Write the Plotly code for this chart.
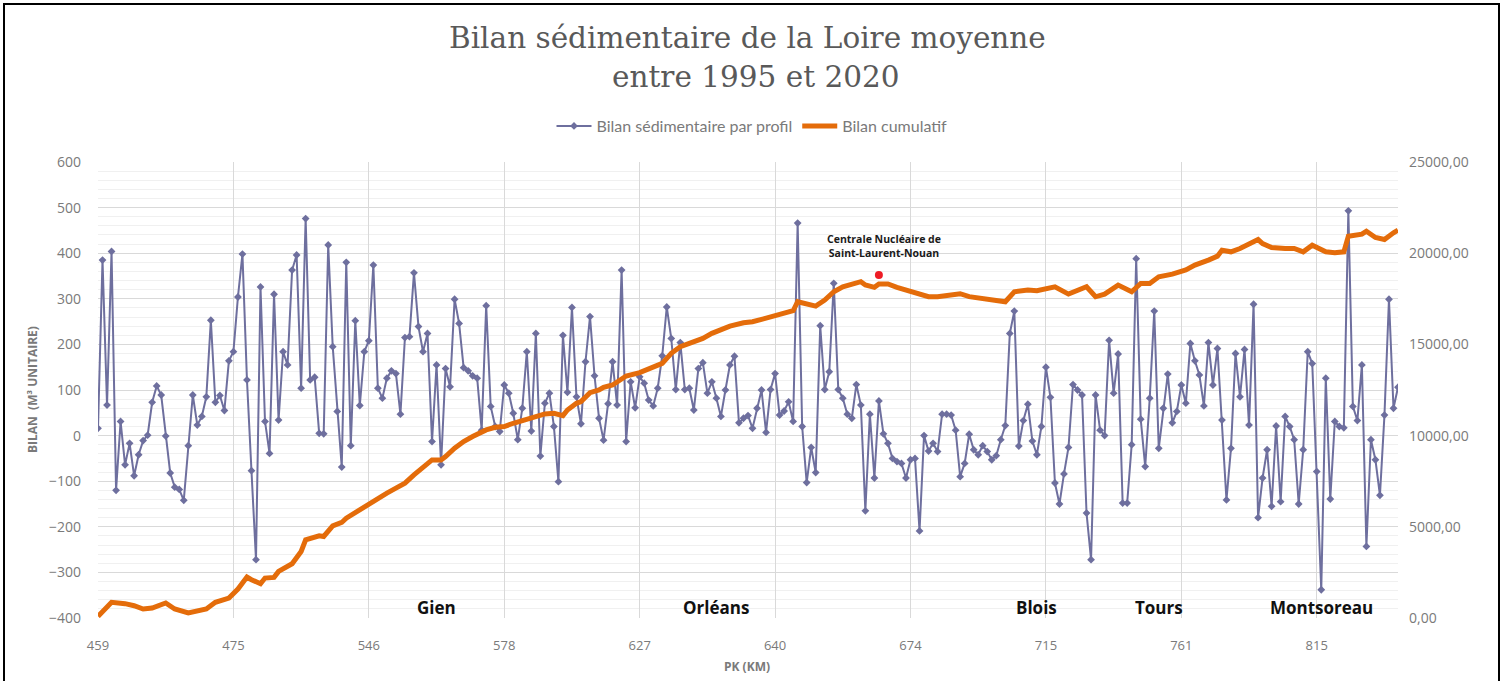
import plotly.graph_objects as go

# --- data ---
bilan_profil = [
    16, 385, 67, 404, -120, 31, -64, -17, -88, -42,
    -11, 1, 73, 109, 89, -1, -82, -113, -118, -142,
    -22, 89, 23, 42, 85, 253, 73, 88, 55, 164,
    184, 304, 398, 122, -77, -272, 326, 31, -39, 310,
    34, 184, 155, 363, 396, 104, 476, 122, 128, 5,
    4, 418, 195, 53, -69, 380, -22, 252, 66, 184,
    208, 374, 104, 82, 126, 142, 136, 47, 215, 217,
    357, 239, 184, 224, -13, 155, -64, 147, 107, 299,
    246, 149, 142, 131, 126, 12, 285, 64, 20, 9,
    111, 93, 49, -9, 60, 184, 10, 224, -45, 71,
    93, 20, -101, 220, 95, 281, 85, 26, 162, 261,
    131, 38, -10, 70, 162, 67, 363, -13, 118, 61,
    129, 115, 78, 65, 104, 175, 282, 213, 101, 204,
    101, 104, 56, 147, 160, 93, 118, 82, 42, 100,
    155, 174, 28, 38, 44, 16, 60, 100, 7, 101,
    136, 45, 54, 74, 31, 466, 20, -103, -26, -81,
    241, 101, 140, 334, 101, 82, 47, 38, 112, 67,
    -165, 47, -93, 76, 4, -17, -50, -57, -61, -93,
    -53, -50, -209, 0, -34, -17, -35, 47, 47, 45,
    12, -90, -61, 3, -31, -42, -22, -35, -53, -44,
    -9, 22, 224, 273, -23, 33, 69, -12, -42, 20,
    150, 84, -104, -150, -84, -26, 112, 100, 89, -170,
    -272, 89, 12, 0, 209, 93, 179, -148, -148, -20,
    388, 36, -68, 82, 273, -28, 60, 135, 28, 53,
    111, 71, 202, 164, 133, 65, 204, 111, 191, 34,
    -141, -28, 180, 85, 189, 23, 288, -180, -93, -31,
    -155, 21, -145, 42, 20, -9, -150, -31, 184, 158,
    -79, -338, 126, -139, 31, 20, 17, 493, 64, 33,
    155, -243, -9, -53, -131, 45, 299, 60, 106,
]

# cumulative curve, read at selected profile positions
cumul_pos = [
    0, 1, 3, 6, 8, 10, 12, 15, 17, 20, 22, 24, 26, 29, 31, 33, 34, 36, 37, 39,
    40, 43, 45, 46, 49, 50, 52, 54, 55, 57, 60, 62, 64, 66, 68, 70, 72, 74, 76, 77,
    79, 81, 83, 84, 86, 88, 90, 92, 94, 96, 97, 99, 101, 103, 104, 106, 107, 109, 111, 112,
    114, 116, 117, 120, 123, 125, 127, 129, 131, 134, 136, 138, 140, 143, 145, 147, 149, 152, 154, 155,
    157, 159, 161, 163, 165, 167, 169, 170, 172, 173, 175, 177, 179, 181, 182, 184, 186, 189, 191, 193,
    196, 199, 201, 203, 206, 208, 212, 215, 219, 221, 223, 226, 229, 231, 233, 235, 238, 241, 243, 246,
    248, 249, 251, 253, 255, 257, 258, 260, 263, 265, 267, 269, 272, 274, 276, 277, 280, 281, 283, 285,
    287, 288,
]
cumul_val = [
    90, 365, 858, 785, 675, 493, 547, 821, 493, 274, 365, 493, 858, 1095, 1588, 2245, 2099, 1880, 2190, 2227,
    2555, 2975, 3650, 4289, 4508, 4471, 5055, 5238, 5475, 5785, 6296, 6570, 6844, 7118, 7391, 7848, 8304, 8669, 8669, 8851,
    9308, 9673, 9946, 10092, 10311, 10457, 10494, 10676, 10822, 10987, 11096, 11187, 11224, 11096, 11406, 11771, 11863, 12355, 12501, 12647,
    12775, 13140, 13268, 13450, 13742, 13961, 14509, 14874, 15056, 15330, 15604, 15786, 16005, 16188, 16243, 16370, 16516, 16699, 16845, 17338,
    17210, 17100, 17429, 17885, 18159, 18305, 18437, 18257, 18129, 18311, 18311, 18129, 17982, 17835, 17703, 17617, 17611, 17720, 17780, 17620,
    17527, 17440, 17338, 17885, 17976, 17940, 18159, 17757, 18159, 17611, 17757, 18250, 17885, 18341, 18341, 18706, 18850, 19080, 19345, 19619,
    19838, 20166, 20075, 20258, 20477, 20750, 20531, 20312, 20258, 20258, 20075, 20440, 20075, 20020, 20075, 20933, 21042, 21207, 20860, 20750,
    21115, 21261,
]

pk_tick_pos = [0, 30, 60, 90, 120, 150, 180, 210, 240, 270]
pk_tick_labels = ["459", "475", "546", "578", "627", "640", "674", "715", "761", "815"]

y2_ticks = [0, 5000, 10000, 15000, 20000, 25000]
y2_labels = ["0,00", "5000,00", "10000,00", "15000,00", "20000,00", "25000,00"]

villes = ["Gien", "Orléans", "Blois", "Tours", "Montsoreau"]
villes_pos = [75, 137, 208, 235, 271]

centrale_pos = [173]
centrale_val = [18800]

# --- layout geometry (pixels) ---
W, H = 1504, 681
L, R, T, B = 98, 106, 162, 63
pw = W - L - R
ph = H - T - B


def px(xp):
    return (xp - L) / pw


def py(yp):
    return (H - B - yp) / ph


BLUE = "#6E6F9E"
ORANGE = "#E46C0A"
GREY = "#7a7a7a"

fig = go.Figure()
fig.add_trace(go.Scatter(
    x=list(range(len(bilan_profil))), y=bilan_profil,
    mode="lines+markers", name="Bilan sédimentaire par profil",
    line=dict(color=BLUE, width=2),
    marker=dict(symbol="diamond", size=6, color=BLUE),
))
fig.add_trace(go.Scatter(
    x=cumul_pos, y=cumul_val, yaxis="y2",
    mode="lines", name="Bilan cumulatif",
    line=dict(color=ORANGE, width=5),
))
fig.add_trace(go.Scatter(
    x=centrale_pos, y=centrale_val, yaxis="y2", mode="markers",
    marker=dict(color="#EE1C25", size=8), showlegend=False, hoverinfo="skip",
))

ann = [
    dict(text="Bilan sédimentaire de la Loire moyenne", x=px(747), y=py(38),
         font=dict(family="DejaVu Serif", size=29.5, color="#595959")),
    dict(text="entre 1995 et 2020", x=px(755), y=py(77),
         font=dict(family="DejaVu Serif", size=29.5, color="#595959")),
    dict(text="<b>PK (KM)</b>", x=px(747), y=py(666),
         font=dict(family="Open Sans", size=12, color=GREY)),
    dict(text="<b>BILAN  (M³ UNITAIRE)</b>", x=px(32), y=py(390), textangle=-90,
         font=dict(family="Open Sans", size=12, color=GREY)),
    dict(text="<b>Centrale Nucléaire de<br>Saint-Laurent-Nouan</b>", x=px(884), y=py(246),
         font=dict(family="Open Sans", size=10.5, color="#1a1a1a")),
]
annotations = []
for a in ann:
    d = dict(xref="paper", yref="paper", showarrow=False, xanchor="center", yanchor="middle")
    d.update(a)
    annotations.append(d)
for v, p in zip(villes, villes_pos):
    annotations.append(dict(
        text="<b>%s</b>" % v, x=p, xref="x", y=py(607), yref="paper",
        showarrow=False, xanchor="center", yanchor="middle",
        font=dict(family="Open Sans", size=17, color="#111111"),
    ))

fig.update_layout(
    width=W, height=H,
    margin=dict(l=L, r=R, t=T, b=B),
    paper_bgcolor="white", plot_bgcolor="white",
    showlegend=True,
    legend=dict(orientation="h", x=px(752), y=py(126), xanchor="center", yanchor="middle",
                font=dict(family="Lato", size=16, color=GREY), itemwidth=35,
                bgcolor="rgba(0,0,0,0)"),
    xaxis=dict(range=[0, len(bilan_profil) - 1], tickmode="array", tickvals=pk_tick_pos,
               ticktext=pk_tick_labels, showgrid=True, gridcolor="#d9d9d9", gridwidth=1,
               zeroline=False, showline=False, ticks="",
               tickfont=dict(family="Open Sans", size=13, color=GREY), ticklabelstandoff=18),
    yaxis=dict(range=[-400, 600], dtick=100, showgrid=True, gridcolor="#d9d9d9",
               zeroline=False, showline=False, ticks="",
               tickfont=dict(family="Open Sans", size=14, color=GREY), ticklabelstandoff=16,
               minor=dict(dtick=20, showgrid=True, gridcolor="#f0f0f0")),
    yaxis2=dict(range=[0, 25000], overlaying="y", side="right", tickmode="array",
                tickvals=y2_ticks, ticktext=y2_labels, showgrid=False, zeroline=False,
                showline=False, ticks="",
                tickfont=dict(family="Open Sans", size=14, color=GREY), ticklabelstandoff=10),
    annotations=annotations,
    shapes=[dict(type="rect", xref="paper", yref="paper",
                 x0=px(4), x1=px(1499), y0=py(700), y1=py(4),
                 line=dict(color="black", width=2), fillcolor="rgba(0,0,0,0)")],
)

fig.write_html(
    "out.html",
    config={"displayModeBar": False},
    post_script="document.body.style.margin='0';document.body.style.overflow='hidden';",
)
